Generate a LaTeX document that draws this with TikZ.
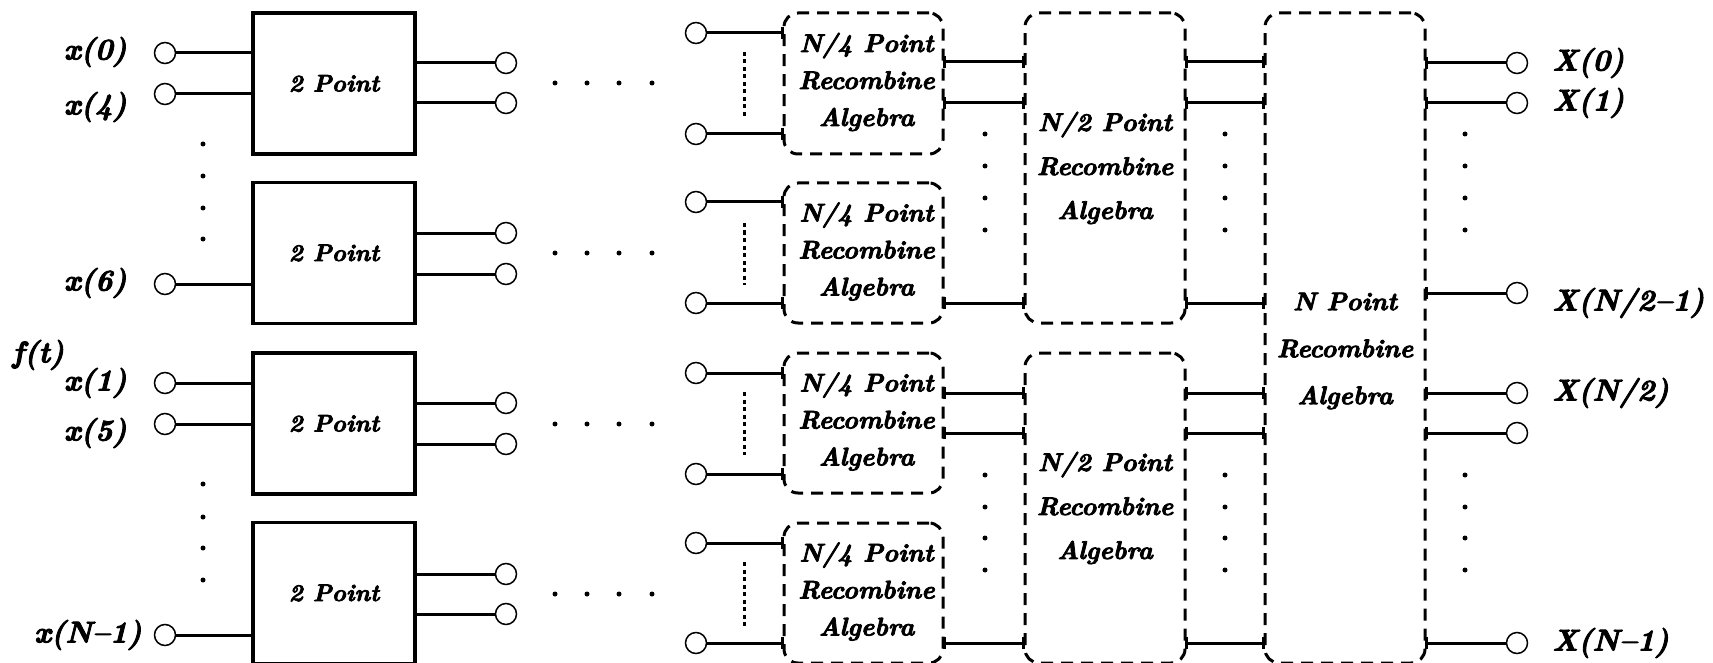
\documentclass[tikz,border=0pt]{standalone}
\usepackage{fontspec}
\setmainfont{Latin Modern Roman}[BoldItalicFeatures={FakeBold=3}]
\usetikzlibrary{calc}
\begin{document}
\begin{tikzpicture}[x=1pt,y=-1pt,
  tbox/.style={draw,line width=3.5pt,minimum width=162pt,minimum height=141pt,inner sep=0pt,
    font=\fontsize{24}{28}\selectfont\bfseries\itshape},
  dbox/.style={draw,line width=3pt,dash pattern=on 12pt off 8pt,rounded corners=14pt,
    minimum width=159pt,inner sep=0pt,align=center},
  qtxt/.style={font=\fontsize{25.5}{37}\selectfont\bfseries\itshape},
  htxt/.style={font=\fontsize{25.5}{44}\selectfont\bfseries\itshape},
  ntxt/.style={font=\fontsize{25.5}{47}\selectfont\bfseries\itshape,align=center,inner sep=0pt},
  port/.style={circle,draw,line width=1.5pt,fill=white,minimum size=21pt,inner sep=0pt},
  wire/.style={line width=3pt},
  tick/.style={line width=3pt},
  vdots/.style={line width=3pt,dash pattern=on 4pt off 3.5pt},
  lab/.style={font=\fontsize{30}{36}\selectfont\bfseries\itshape,inner sep=0pt}
]
\useasboundingbox (0,0) rectangle (1713,663);
\fill[white] (0,0) rectangle (1713,663);

% ---------- 2 point boxes ----------
\node[tbox] (B1) at (334,83.5) {2 Point};
\node[tbox] (B2) at (334,253) {2 Point};
\node[tbox] (B3) at (334,423.5) {2 Point};
\node[tbox] (B4) at (334,593) {2 Point};

% input ports
\node[port] (I0) at (165,53) {};
\node[port] (I4) at (165,94) {};
\node[port] (I6) at (165,284) {};
\node[port] (I1) at (165,383) {};
\node[port] (I5) at (165,424) {};
\node[port] (IN) at (165,635) {};
\foreach \p/\b in {I0/B1,I4/B1,I6/B2,I1/B3,I5/B3,IN/B4}
  \draw[wire] (\p) -- (\p -| \b.west);

% input labels
\node[lab,anchor=east] (lx0) at (127,52) {x(0)};
\node[lab,anchor=east] (lx4) at (127,107) {x(4)};
\node[lab,anchor=east] (lx6) at (127,283) {x(6)};
\node[lab,anchor=west] (lft) at (12,355) {f(t)};
\node[lab,anchor=east] (lx1) at (127,383) {x(1)};
\node[lab,anchor=east] (lx5) at (127,433) {x(5)};
\node[lab,anchor=east] (lxN) at (142,635) {x(N--1)};

% output ports of 2 point boxes
\node[port] (O1a) at (506,63) {};
\node[port] (O1b) at (506,103) {};
\node[port] (O2a) at (506,233) {};
\node[port] (O2b) at (506,274) {};
\node[port] (O3a) at (506,403) {};
\node[port] (O3b) at (506,444) {};
\node[port] (O4a) at (506,574) {};
\node[port] (O4b) at (506,614) {};
\foreach \p/\b in {O1a/B1,O1b/B1,O2a/B2,O2b/B2,O3a/B3,O3b/B3,O4a/B4,O4b/B4}
  \draw[wire] (\p -| \b.east) -- (\p);

% ---------- N/4 boxes ----------
\node[dbox,minimum height=141pt] (Q1) at (863.5,83.5) {};
\node[dbox,minimum height=140pt] (Q2) at (863.5,253) {};
\node[dbox,minimum height=140pt] (Q3) at (863.5,423) {};
\node[dbox,minimum height=140pt] (Q4) at (863.5,593) {};
\foreach \q in {Q1,Q2,Q3,Q4}
  \node[qtxt,align=center,inner sep=0pt] (\q t) at ($(\q.center)+(3,-1.5)$) {N/4 Point\\Recombine\\Algebra};

% N/4 input ports
\node[port] (P1a) at (696,33) {};
\node[port] (P1b) at (696,134) {};
\node[port] (P2a) at (696,202) {};
\node[port] (P2b) at (696,303) {};
\node[port] (P3a) at (696,373) {};
\node[port] (P3b) at (696,474) {};
\node[port] (P4a) at (696,543) {};
\node[port] (P4b) at (696,643) {};
\foreach \p/\q in {P1a/Q1,P1b/Q1,P2a/Q2,P2b/Q2,P3a/Q3,P3b/Q3,P4a/Q4,P4b/Q4}{
  \draw[wire] (\p) -- (\p -| \q.west) coordinate (e\p);
  \draw[tick] ([yshift=6pt]e\p) -- ([yshift=-6pt]e\p);
}
% vertical dotted lines between the inputs
\draw[vdots] (744,52) -- (744,117);
\draw[vdots] (744,223) -- (744,285);
\draw[vdots] (744,392) -- (744,455);
\draw[vdots] (744,562) -- (744,627);

% ---------- N/2 boxes ----------
\node[dbox,minimum width=160pt,minimum height=310pt,htxt] (H1) at (1105,168) {N/2 Point\\Recombine\\Algebra};
\node[dbox,minimum width=160pt,minimum height=310pt,htxt] (H2) at (1105,508) {N/2 Point\\Recombine\\Algebra};

% ---------- N box ----------
\node[dbox,minimum width=160pt,minimum height=650pt] (NB) at (1345,338) {};
\node[ntxt] (NBt) at (1345,351) {N Point\\Recombine\\Algebra};

% wires N/4 -> N/2
\foreach \q/\h/\l [count=\i] in {Q1/H1/62,Q1/H1/103,Q2/H1/303,Q3/H2/393,Q3/H2/433,Q4/H2/643}{
  \coordinate (L\i) at (0,\l);
  \draw[wire] (\q.east |- L\i) coordinate (s\i) -- (\h.west |- L\i) coordinate (t\i);
  \draw[tick] ([yshift=6pt]s\i) -- ([yshift=-6pt]s\i);
  \draw[tick] ([yshift=6pt]t\i) -- ([yshift=-6pt]t\i);
}
% wires N/2 -> N
\foreach \h/\l [count=\i] in {H1/62,H1/103,H1/303,H2/393,H2/433,H2/643}{
  \coordinate (M\i) at (0,\l);
  \draw[wire] (\h.east |- M\i) coordinate (u\i) -- (NB.west |- M\i) coordinate (v\i);
  \draw[tick] ([yshift=6pt]u\i) -- ([yshift=-6pt]u\i);
  \draw[tick] ([yshift=6pt]v\i) -- ([yshift=-6pt]v\i);
}

% ---------- outputs ----------
\node[port] (R0) at (1517,63) {};
\node[port] (R1) at (1517,103) {};
\node[port] (R2) at (1517,293) {};
\node[port] (R3) at (1517,393) {};
\node[port] (R4) at (1517,433) {};
\node[port] (R5) at (1517,643) {};
\foreach \r in {R0,R1,R2,R3,R4,R5}{
  \draw[wire] (\r -| NB.east) coordinate (w\r) -- (\r);
  \draw[tick] ([yshift=6pt]w\r) -- ([yshift=-6pt]w\r);
}
\node[lab,anchor=west] (X0) at (1552,63) {X(0)};
\node[lab,anchor=west] (X1) at (1552,103) {X(1)};
\node[lab,anchor=west] (X2) at (1552,303) {X(N/2--1)};
\node[lab,anchor=west] (X3) at (1552,393) {X(N/2)};
\node[lab,anchor=west] (X5) at (1552,643) {X(N--1)};

% ---------- continuation dots ----------
\foreach \y in {144,176,208,239,484,517,548,580} \fill (203,\y) circle (2.5);
\foreach \y in {83,253,424,594} \foreach \x in {555,587,619,652} \fill (\x,\y) circle (2.5);
\foreach \x in {985,1225,1465} \foreach \y in {134,166,198,230,475,507,538,570} \fill (\x,\y) circle (2.5);
\end{tikzpicture}
\end{document}
